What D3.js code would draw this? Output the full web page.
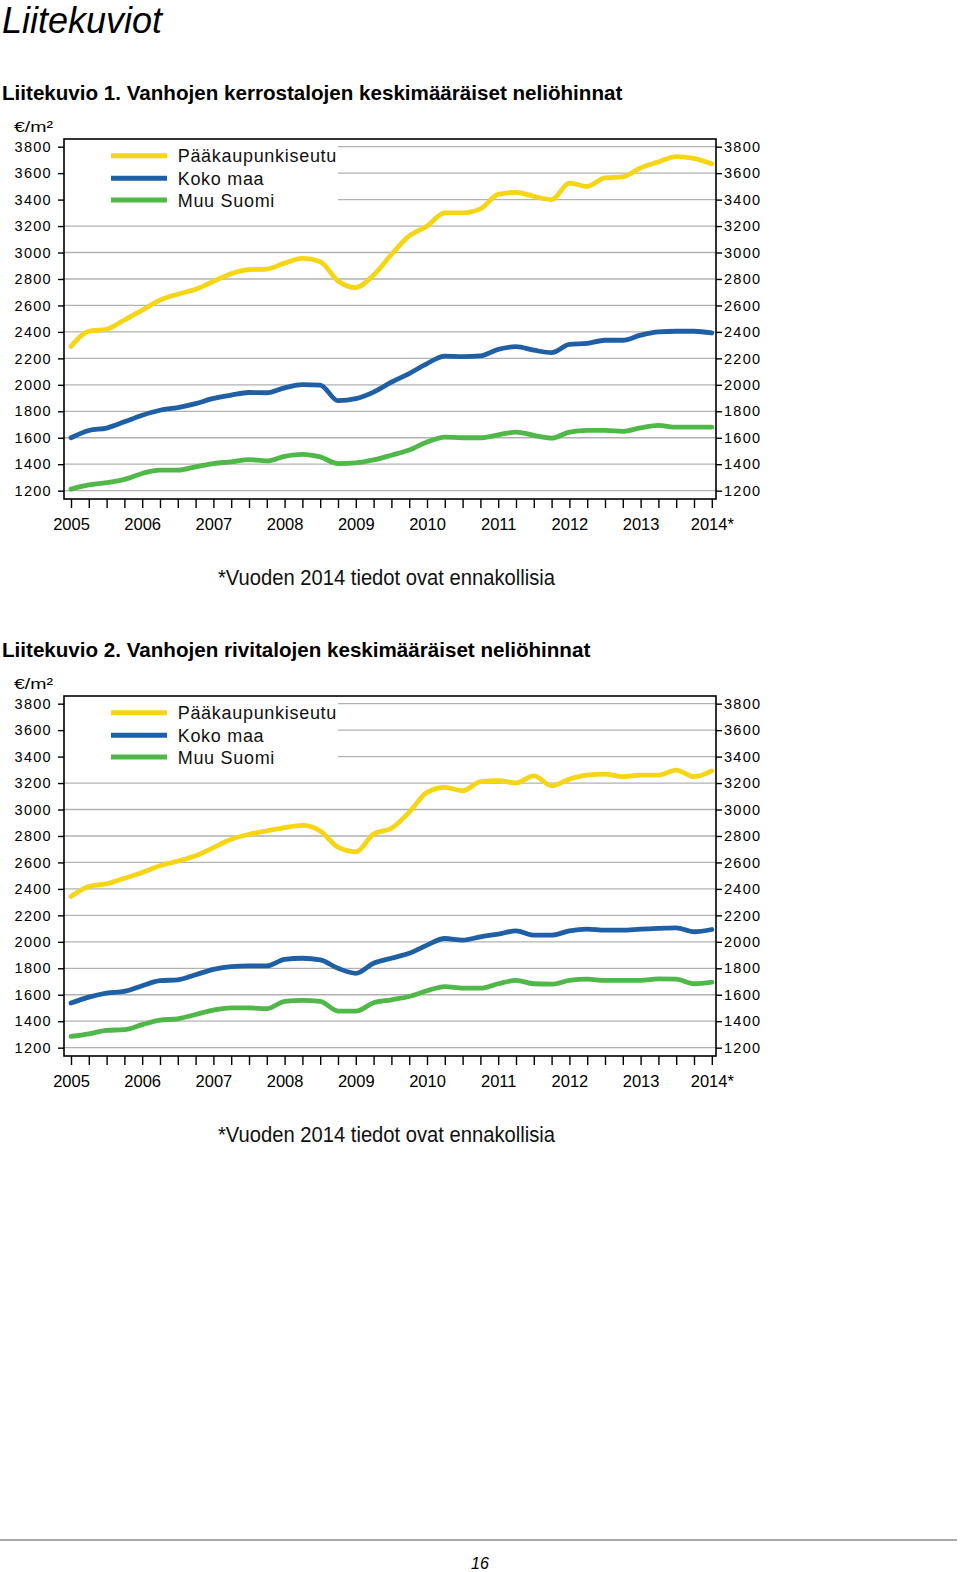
<!DOCTYPE html>
<html><head><meta charset="utf-8">
<script src="https://cdn.jsdelivr.net/npm/d3@7"></script>
<style>body{margin:0;background:#fff} svg{display:block} text{font-family:"Liberation Sans",Arial,sans-serif}</style>
</head><body><svg id="c" width="960" height="1572"></svg>
<script>
const quarters = ["2005Q1","2005Q2","2005Q3","2005Q4","2006Q1","2006Q2","2006Q3","2006Q4",
  "2007Q1","2007Q2","2007Q3","2007Q4","2008Q1","2008Q2","2008Q3","2008Q4",
  "2009Q1","2009Q2","2009Q3","2009Q4","2010Q1","2010Q2","2010Q3","2010Q4",
  "2011Q1","2011Q2","2011Q3","2011Q4","2012Q1","2012Q2","2012Q3","2012Q4",
  "2013Q1","2013Q2","2013Q3","2013Q4","2014Q1"];
const yearLabels = ["2005","2006","2007","2008","2009","2010","2011","2012","2013","2014*"];
const yTicks = [1200,1400,1600,1800,2000,2200,2400,2600,2800,3000,3200,3400,3600,3800];
const seriesNames = ["Pääkaupunkiseutu","Koko maa","Muu Suomi"];
const seriesColors = ["#f5d516","#1e5fa6","#4fb848"];

// Liitekuvio 1: kerrostalot
const kerrosPKS = [2290,2405,2420,2490,2565,2640,2685,2722,2782,2840,2870,2875,2920,2955,2930,2785,2735,2830,2985,3125,3200,3300,3300,3330,3440,3455,3425,3400,3525,3500,3565,3572,3640,3685,3725,3712,3670];
const kerrosKoko = [1600,1655,1673,1720,1770,1808,1828,1858,1897,1922,1942,1940,1977,2002,1998,1880,1895,1945,2020,2085,2160,2217,2213,2218,2268,2288,2262,2243,2305,2313,2337,2337,2375,2400,2405,2405,2392];
const kerrosMuu = [1212,1243,1260,1285,1330,1355,1355,1380,1405,1418,1435,1425,1460,1475,1455,1405,1410,1432,1468,1507,1567,1605,1600,1600,1622,1643,1618,1597,1643,1655,1655,1648,1675,1693,1680,1680,1680];

// Liitekuvio 2: rivitalot
const riviPKS = [2342,2418,2438,2480,2524,2575,2610,2650,2712,2775,2812,2838,2863,2880,2838,2715,2680,2815,2858,2980,3130,3168,3142,3210,3218,3200,3255,3180,3230,3260,3268,3248,3260,3260,3298,3248,3292];
const riviKoko = [1537,1582,1613,1625,1668,1706,1713,1751,1792,1813,1818,1818,1868,1876,1864,1800,1762,1838,1876,1913,1975,2025,2013,2038,2058,2083,2050,2050,2083,2096,2088,2088,2096,2101,2106,2076,2093];
const riviMuu = [1285,1305,1331,1336,1374,1408,1418,1451,1484,1501,1501,1494,1550,1557,1550,1476,1476,1540,1562,1587,1630,1662,1650,1650,1683,1708,1683,1680,1708,1718,1708,1708,1708,1720,1718,1683,1695];

const svg = d3.select("#c");
svg.append("rect").attr("width",960).attr("height",1572).attr("fill","#fff");
svg.append("text").attr("x",2).attr("y",33).attr("font-size",36).attr("font-style","italic").text("Liitekuviot");

function drawChart(oy, title, seriesData){
  const g = svg.append("g").attr("transform",`translate(0,${oy})`);
  g.append("text").attr("x",2).attr("y",100).attr("font-size",20.6).attr("font-weight","bold").text(title);
  g.append("text").attr("x",14).attr("y",131.5).attr("font-size",15.5).attr("textLength",39)
    .attr("lengthAdjust","spacingAndGlyphs").text("€/m²");
  const x = d3.scaleLinear().domain([-0.393, 36.236]).range([64,716]);
  const y = d3.scaleLinear().domain([1137,3858]).range([499,139]);

  g.selectAll("line.grid").data(yTicks).join("line").attr("class","grid")
    .attr("x1",64).attr("x2",716).attr("y1",d=>y(d)).attr("y2",d=>y(d))
    .attr("stroke","#b2b2b2").attr("stroke-width",1.3);

  // legend
  g.append("rect").attr("x",65).attr("y",140).attr("width",273).attr("height",70).attr("fill","#fff");
  const lg = g.selectAll("g.leg").data(seriesNames).join("g").attr("class","leg")
    .attr("transform",(d,i)=>`translate(0,${[155.7,178.3,200][i]})`);
  lg.append("line").attr("x1",111).attr("x2",167).attr("stroke",(d,i)=>seriesColors[i]).attr("stroke-width",5);
  lg.append("text").attr("x",177.7).attr("y",6.5).attr("font-size",18).attr("letter-spacing",0.7).attr("fill","#111").text(d=>d);

  const line = d3.line().x((d,i)=>x(i)).y(d=>y(d)).curve(d3.curveMonotoneX);
  g.selectAll("path.series").data(seriesData).join("path").attr("class","series")
    .attr("d",d=>line(d)).attr("fill","none").attr("stroke",(d,i)=>seriesColors[i])
    .attr("stroke-width",4.8).attr("stroke-linejoin","round").attr("stroke-linecap","round");

  g.append("rect").attr("x",64).attr("y",139).attr("width",652).attr("height",360)
    .attr("fill","none").attr("stroke","#000").attr("stroke-width",1.6);

  const styleAxis = (sel, fs, ls) => {
    sel.select(".domain").remove();
    sel.selectAll(".tick line").attr("stroke","#000").attr("stroke-width",1.4);
    sel.selectAll(".tick text").attr("fill","#000").attr("font-size",fs).attr("letter-spacing",ls)
      .attr("font-family",'"Liberation Sans",Arial,sans-serif');
  };
  g.append("g").attr("transform","translate(64,0)")
    .call(d3.axisLeft(y).tickValues(yTicks).tickSize(6).tickPadding(6).tickFormat(d3.format("d")))
    .call(s=>styleAxis(s,14.5,1.3));
  g.append("g").attr("transform","translate(716,0)")
    .call(d3.axisRight(y).tickValues(yTicks).tickSize(6).tickPadding(2).tickFormat(d3.format("d")))
    .call(s=>styleAxis(s,14.5,1.3));
  g.append("g").attr("transform","translate(0,499)")
    .call(d3.axisBottom(x).tickValues(quarters.map((q,i)=>i)).tickSize(9).tickPadding(10)
      .tickFormat(i => i%4===0 ? yearLabels[i/4] : ""))
    .call(s=>styleAxis(s,16.5,0));

  g.append("text").attr("x",218).attr("y",585).attr("font-size",22).attr("textLength",337)
    .attr("lengthAdjust","spacingAndGlyphs").attr("fill","#111").text("*Vuoden 2014 tiedot ovat ennakollisia");
}

drawChart(0, "Liitekuvio 1. Vanhojen kerrostalojen keskimääräiset neliöhinnat", [kerrosPKS, kerrosKoko, kerrosMuu]);
drawChart(557, "Liitekuvio 2. Vanhojen rivitalojen keskimääräiset neliöhinnat", [riviPKS, riviKoko, riviMuu]);

svg.append("line").attr("x1",0).attr("x2",957).attr("y1",1540).attr("y2",1540).attr("stroke","#8c8c8c").attr("stroke-width",1.5);
svg.append("text").attr("x",480).attr("y",1569).attr("text-anchor","middle").attr("font-size",16).attr("font-style","italic").text("16");
</script></body></html>
